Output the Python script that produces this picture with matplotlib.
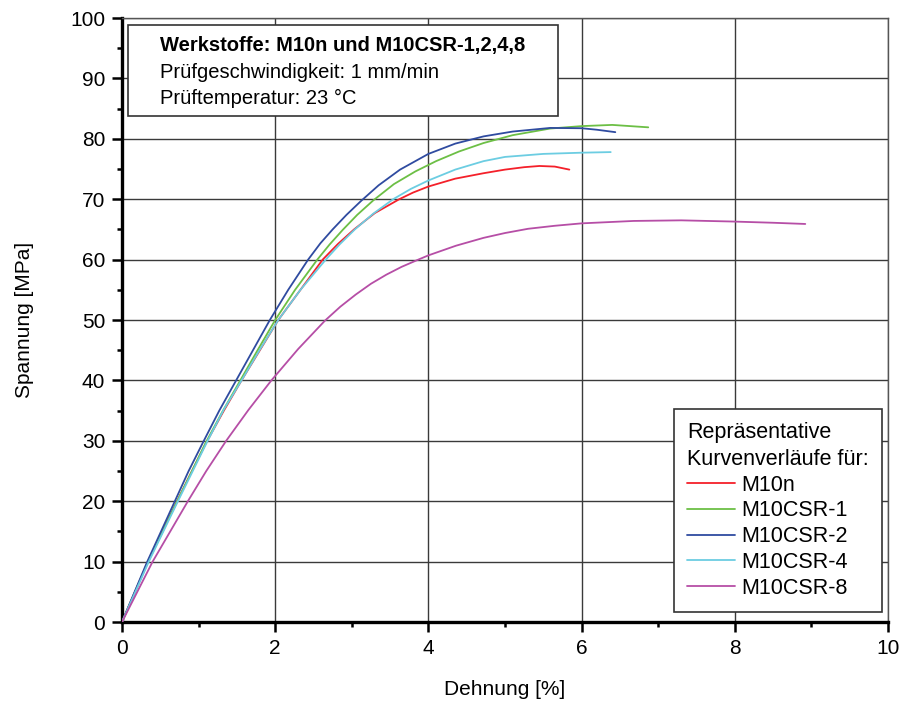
import matplotlib
matplotlib.use("Agg")
import matplotlib.pyplot as plt
from matplotlib.patches import Rectangle
from matplotlib.ticker import MultipleLocator

plt.rcParams['font.family'] = ['Liberation Sans', 'DejaVu Sans']

# Stress-strain curves (strain in %, stress in MPa)
m10n_x = [0, 0.34, 0.72, 0.91, 1.10, 1.33, 1.56, 1.80, 2.04, 2.33, 2.62, 2.82, 3.03, 3.30, 3.62, 3.80,
          4.00, 4.35, 4.72, 5.00, 5.25, 5.45, 5.65, 5.84]
m10n_y = [0, 10, 20, 24.9, 29.7, 35, 40, 45, 50, 55, 60, 62.6, 65, 67.7, 70, 71.1,
          72.1, 73.4, 74.3, 74.9, 75.3, 75.5, 75.4, 74.9]

csr1_x = [0, 0.34, 0.72, 0.91, 1.09, 1.31, 1.54, 1.77, 2.00, 2.26, 2.55, 2.71, 2.88, 3.07, 3.28, 3.55,
          3.83, 4.10, 4.40, 4.72, 5.10, 5.59, 6.00, 6.40, 6.87]
csr1_y = [0, 10, 20, 24.9, 29.6, 34.8, 39.9, 45, 50, 55, 60, 62.5, 64.9, 67.4, 69.8, 72.5,
          74.6, 76.3, 77.9, 79.3, 80.6, 81.7, 82.1, 82.3, 81.9]

csr2_x = [0, 0.33, 0.69, 0.87, 1.06, 1.27, 1.49, 1.71, 1.93, 2.17, 2.43, 2.59, 2.75, 2.93, 3.12, 3.35,
          3.63, 4.00, 4.35, 4.72, 5.10, 5.59, 6.00, 6.20, 6.44]
csr2_y = [0, 10, 20, 25.0, 29.8, 35, 40, 45, 50, 55, 60, 62.7, 65.0, 67.4, 69.7, 72.3,
          74.9, 77.5, 79.2, 80.4, 81.2, 81.8, 81.75, 81.5, 81.1]

csr4_x = [0, 0.35, 0.73, 0.92, 1.11, 1.33, 1.57, 1.80, 2.04, 2.33, 2.66, 2.84, 3.04, 3.28, 3.54, 3.77,
          4.00, 4.35, 4.72, 5.00, 5.50, 6.00, 6.38]
csr4_y = [0, 10, 20, 24.9, 29.8, 35.2, 40.2, 45.1, 50, 55, 60, 62.5, 65, 67.6, 70, 71.7,
          73.1, 74.9, 76.3, 77.0, 77.5, 77.7, 77.8]

csr8_x = [0, 0.40, 0.86, 1.10, 1.36, 1.65, 1.95, 2.30, 2.65, 2.85, 3.05, 3.25, 3.45, 3.65, 3.85,
          4.00, 4.36, 4.72, 5.00, 5.30, 5.65, 6.00, 6.68, 7.30, 7.98, 8.50, 8.92]
csr8_y = [0, 10, 20, 25, 30, 35.1, 40, 45.2, 49.9, 52.2, 54.2, 56.0, 57.5, 58.8, 59.9,
          60.7, 62.3, 63.6, 64.4, 65.1, 65.6, 66.0, 66.4, 66.5, 66.3, 66.1, 65.9]

series_labels = ['M10n', 'M10CSR-1', 'M10CSR-2', 'M10CSR-4', 'M10CSR-8']
series_colors = ['#f4202a', '#6cbf45', '#2f4ba0', '#6ccde2', '#b64ea6']

x_ticks = [0, 2, 4, 6, 8, 10]
y_ticks = [0, 10, 20, 30, 40, 50, 60, 70, 80, 90, 100]

info_lines = ['Werkstoffe: M10n und M10CSR-1,2,4,8',
              'Prüfgeschwindigkeit: 1 mm/min',
              'Prüftemperatur: 23 °C']
legend_title = 'Repräsentative\nKurvenverläufe für:'

fig = plt.figure(figsize=(9.02, 7.04), dpi=100)
ax = fig.add_axes([122 / 902, 1 - 622 / 704, 766 / 902, 604 / 704])

data = [(m10n_x, m10n_y), (csr1_x, csr1_y), (csr2_x, csr2_y), (csr4_x, csr4_y), (csr8_x, csr8_y)]
for (xs, ys), lab, col in zip(data, series_labels, series_colors):
    ax.plot(xs, ys, color=col, lw=1.3, label=lab, zorder=3,
            solid_joinstyle='round', solid_capstyle='round')

ax.set_xlim(0, 10)
ax.set_ylim(0, 100)
ax.set_xticks(x_ticks)
ax.set_yticks(y_ticks)
ax.xaxis.set_minor_locator(MultipleLocator(1))
ax.yaxis.set_minor_locator(MultipleLocator(5))
ax.tick_params(which='major', direction='out', length=7, width=1.8, labelsize=15, pad=5)
ax.tick_params(which='minor', direction='out', length=3.5, width=1.8)
ax.grid(True, which='major', color='#3a3a3a', lw=1.0, zorder=0)

for side in ['left', 'bottom']:
    ax.spines[side].set_linewidth(2.4)
    ax.spines[side].set_color('black')
for side in ['top', 'right']:
    ax.spines[side].set_linewidth(1.0)
    ax.spines[side].set_color('#555555')

ax.set_xlabel('Dehnung [%]', fontsize=15)
ax.set_ylabel('Spannung [MPa]', fontsize=15)
ax.xaxis.set_label_coords(0.5, -0.096)
ax.yaxis.set_label_coords(-0.115, 0.5)

# information box
ax.add_patch(Rectangle((6 / 766, (622 - 116) / 604), 430 / 766, 91 / 604,
                       transform=ax.transAxes, facecolor='white', edgecolor='#333333',
                       lw=1.2, zorder=5))
text_y = [(622 - 46) / 604, (622 - 72) / 604, (622 - 98) / 604]
for i, (t, ty) in enumerate(zip(info_lines, text_y)):
    ax.text(38 / 766, ty, t, transform=ax.transAxes, fontsize=14.5, va='center', ha='left',
            fontweight='bold' if i == 0 else 'normal', zorder=6)

leg = ax.legend(loc='lower right', bbox_to_anchor=(760 / 766, 10 / 604), title=legend_title,
                fontsize=15.5, title_fontsize=15.5, frameon=True, fancybox=False,
                edgecolor='#333333', framealpha=1, handlelength=2.25, handletextpad=0.28,
                labelspacing=0.22, borderpad=0.62, borderaxespad=0)
leg._legend_box.align = 'left'
leg.get_title().set_linespacing(1.35)
leg.get_frame().set_linewidth(1.2)
leg.set_zorder(6)

fig.savefig('out.png', dpi=100)
